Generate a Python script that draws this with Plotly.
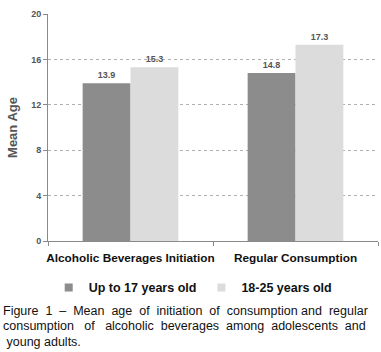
import plotly.graph_objects as go

categories = ["Alcoholic Beverages Initiation", "Regular Consumption"]
series_names = ["Up to 17 years old", "18-25 years old"]
series_colors = ["#8c8c8c", "#dcdcdc"]
up_to_17 = [13.9, 14.8]
age_18_25 = [15.3, 17.3]
y_ticks = [0, 4, 8, 12, 16, 20]
caption_lines = [
    "Figure &nbsp;1 &nbsp;– &nbsp;Mean &nbsp;age &nbsp;of &nbsp;initiation &nbsp;of &nbsp;consumption and &nbsp;regular",
    "consumption &nbsp;&nbsp;of &nbsp;&nbsp;alcoholic &nbsp;beverages &nbsp;among &nbsp;adolescents &nbsp;and",
    " young adults.",
]

fig = go.Figure()
for name, vals, col in zip(series_names, [up_to_17, age_18_25], series_colors):
    fig.add_trace(go.Bar(
        x=categories, y=vals, name=name, showlegend=False, legendgroup=name,
        marker=dict(color=col, line=dict(width=0)),
        text=vals, texttemplate="<b>%{text:.1f}</b>", textposition="outside",
        textfont=dict(family="Liberation Sans", size=9, color="#555555"),
        cliponaxis=False,
    ))
for name, col in zip(series_names, series_colors):
    fig.add_trace(go.Scatter(
        x=[None], y=[None], mode="markers", name="<b>" + name + "</b>", legendgroup=name,
        marker=dict(symbol="square", size=8, color=col),
    ))

annotations = []
for i, line in enumerate(caption_lines):
    annotations.append(dict(
        text=line, xref="paper", yref="paper", x=-0.142, y=-0.27 - i * 0.067,
        xanchor="left", yanchor="top", align="left", showarrow=False,
        font=dict(size=12.5, color="#111111", family="Liberation Sans"),
    ))

fig.update_layout(
    width=381, height=352,
    margin=dict(l=48, r=3, t=14, b=111, autoexpand=False),
    paper_bgcolor="white", plot_bgcolor="white",
    barmode="group", bargap=0.42, bargroupgap=0,
    font=dict(family="Liberation Sans", color="#222222"),
    showlegend=True,
    legend=dict(orientation="h", x=0.44, xanchor="center", y=-0.207, yanchor="middle",
                font=dict(size=12.5, color="#111111"), itemwidth=30,
                traceorder="normal", bgcolor="rgba(0,0,0,0)"),
    xaxis=dict(
        tickvals=categories,
        ticktext=["<b>" + c + "</b>" for c in categories],
        tickfont=dict(size=11.8, color="#111111"), tickangle=0,
        ticklabelstandoff=6,
        showline=True, linecolor="#8a8a8a", linewidth=1,
        ticks="outside", tickson="boundaries", ticklen=4, tickcolor="#8a8a8a",
        showgrid=False,
    ),
    yaxis=dict(
        range=[0, 20], tickvals=y_ticks,
        ticktext=["<b>%d</b>" % v for v in y_ticks],
        tickfont=dict(size=9, color="#555555"),
        showline=True, linecolor="#8a8a8a", linewidth=1,
        ticks="outside", ticklen=4, tickcolor="#8a8a8a",
        showgrid=True, gridcolor="#b0b0b0", griddash="dot", gridwidth=1,
        zeroline=False,
        title=dict(text="<b>Mean Age</b>", font=dict(size=13, color="#555555"), standoff=10),
    ),
    annotations=annotations,
)

fig.write_html("out.html")
